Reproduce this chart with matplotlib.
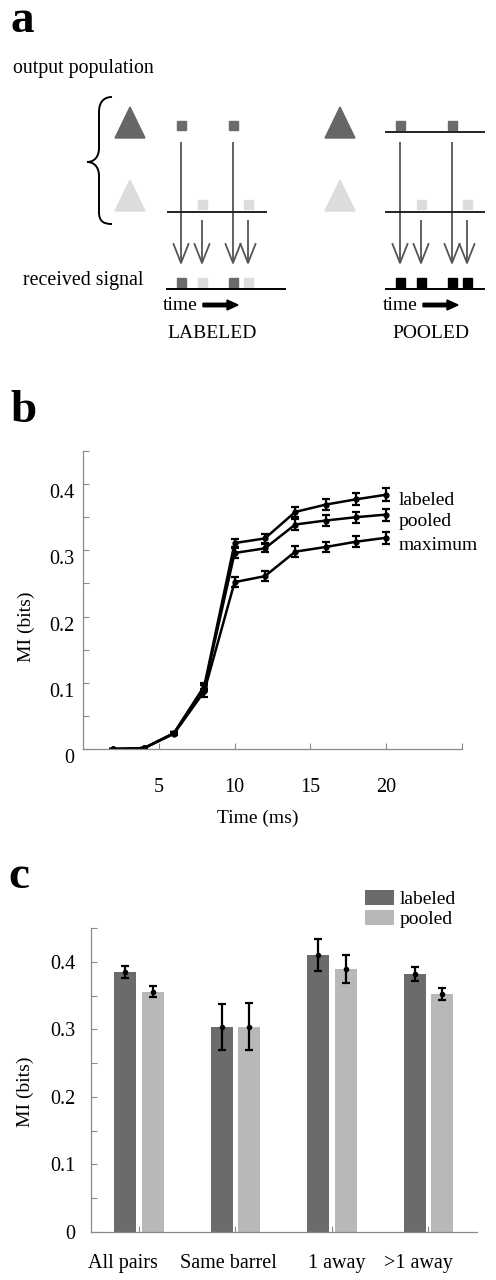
"""Three-panel figure: labeled vs pooled coding schematic, MI over time, MI by pair class."""

import numpy as np
from matplotlib import pyplot as plt
from matplotlib.patches import Polygon, Rectangle, PathPatch
from matplotlib.path import Path

plt.rcParams["font.family"] = ["Liberation Serif", "DejaVu Serif"]

# panel b: mutual information over time
time_ms = [2, 4, 6, 8, 10, 12, 14, 16, 18, 20]
mi_labeled = [0.0, 0.001, 0.024, 0.095, 0.311, 0.318, 0.358, 0.369, 0.377, 0.384]
mi_pooled = [0.0, 0.001, 0.024, 0.092, 0.296, 0.303, 0.339, 0.345, 0.350, 0.354]
mi_maximum = [0.0, 0.001, 0.023, 0.087, 0.252, 0.261, 0.298, 0.305, 0.313, 0.319]
err_labeled = [0, 0, 0.002, 0.004, 0.006, 0.007, 0.008, 0.008, 0.009, 0.0095]
err_pooled = [0, 0, 0.002, 0.004, 0.007, 0.006, 0.009, 0.008, 0.008, 0.009]
err_maximum = [0, 0, 0.002, 0.009, 0.008, 0.0075, 0.008, 0.0075, 0.008, 0.009]

# panel c: MI per pair category
categories = ["All pairs", "Same barrel", "1 away", ">1 away"]
bar_labeled = [0.385, 0.304, 0.410, 0.382]
bar_pooled = [0.356, 0.304, 0.389, 0.352]
bar_err_labeled = [0.009, 0.034, 0.023, 0.010]
bar_err_pooled = [0.008, 0.035, 0.021, 0.009]

# panel a: spike times (schematic units) of the two output neurons
dark_spikes = [14, 66]
light_spikes = [35, 81]

DARK = "#6b6b6b"
LIGHT = "#b8b8b8"
TRI_DARK = "#666666"
TRI_LIGHT = "#dcdcdc"
SPINE = "#8a8a8a"
FS = 14
TICK_FS = 14.5

W, H = 496, 1280


def draw_arrow(ax, x, y0, y1, color="#555555"):
    # shaft plus an open V head
    ax.plot([x, x], [y0, y1], color=color, lw=1.3, solid_capstyle="butt")
    ax.plot([x - 7.5, x, x + 7.5], [y1 - 19, y1, y1 - 19], color=color, lw=1.3)


def draw_scheme(ax, x0, name, pooled):
    tri_x = 115 if not pooled else 325
    ax.add_patch(Polygon([[tri_x, 138], [tri_x + 15, 107], [tri_x + 30, 138]], color=TRI_DARK))
    ax.add_patch(Polygon([[tri_x, 211], [tri_x + 15, 180], [tri_x + 30, 211]], color=TRI_LIGHT))

    sq = 9
    for t in dark_spikes:
        ax.add_patch(Rectangle((x0 + t - sq / 2, 121), sq, sq, color=DARK))
        draw_arrow(ax, x0 + t, 142, 263)
        ax.add_patch(Rectangle((x0 + t - sq / 2, 278), sq, sq, color="black" if pooled else DARK))
    for t in light_spikes:
        ax.add_patch(Rectangle((x0 + t - sq / 2, 200), sq, sq, color=TRI_LIGHT))
        draw_arrow(ax, x0 + t, 220, 263)
        ax.add_patch(Rectangle((x0 + t - sq / 2, 278), sq, sq, color="black" if pooled else TRI_LIGHT))

    if pooled:
        ax.plot([x0, x0 + 98], [132, 132], color="#222222", lw=1.4)
        ax.plot([x0, x0 + 98], [212, 212], color="#222222", lw=1.4)
        ax.plot([x0, x0 + 98], [289, 289], color="black", lw=1.4)
        text_x = x0 - 3
    else:
        ax.plot([x0 + 1, x0 + 99], [212, 212], color="#222222", lw=1.4)
        ax.plot([x0, x0 + 118], [289, 289], color="black", lw=1.4)
        text_x = x0 - 4

    ax.text(text_x, 305, "time", fontsize=FS, ha="left", va="center")
    ax.arrow(text_x + 40, 305, 35, 0, width=3.5, head_width=10, head_length=11,
             length_includes_head=True, color="black")
    ax.text(x0 + 45, 334, name, fontsize=FS, ha="center", va="center")


def plot_schematic(fig):
    ax = fig.add_axes([0, 1 - 345 / H, 1, 345 / H])
    ax.set_xlim(0, W)
    ax.set_ylim(345, 0)
    ax.axis("off")

    ax.text(13, 69, "output population", fontsize=14.3, ha="left", va="center")
    ax.text(23, 280, "received signal", fontsize=14.3, ha="left", va="center")

    # curly brace grouping the two neurons
    verts = [(112, 97), (103, 97), (99, 103), (99, 112), (99, 148),
             (99, 156), (95, 162), (87, 162),
             (95, 162), (99, 168), (99, 176), (99, 212),
             (99, 221), (103, 224), (112, 224)]
    codes = [Path.MOVETO, Path.CURVE4, Path.CURVE4, Path.CURVE4, Path.LINETO,
             Path.CURVE4, Path.CURVE4, Path.CURVE4,
             Path.CURVE4, Path.CURVE4, Path.CURVE4, Path.LINETO,
             Path.CURVE4, Path.CURVE4, Path.CURVE4]
    ax.add_patch(PathPatch(Path(verts, codes), fill=False, lw=1.4, color="black"))

    draw_scheme(ax, 167, "LABELED", pooled=False)
    draw_scheme(ax, 386, "POOLED", pooled=True)


def style_axes(ax):
    for side in ["top", "right"]:
        ax.spines[side].set_visible(False)
    for side in ["left", "bottom"]:
        ax.spines[side].set_color(SPINE)
        ax.spines[side].set_linewidth(0.9)
    ax.tick_params(which="both", direction="in", color=SPINE, length=4, width=0.8,
                   labelsize=TICK_FS)


def plot_time_course(fig):
    ax = fig.add_axes([83 / W, 1 - 749 / H, 379 / W, 298 / H])
    style_axes(ax)
    series = [(mi_labeled, err_labeled), (mi_pooled, err_pooled), (mi_maximum, err_maximum)]
    for values, errs in series:
        ax.errorbar(time_ms, values, yerr=errs, color="black", lw=1.8, capsize=3,
                    elinewidth=1.6, capthick=1.6, marker="o", ms=3.5)
    ax.set_xlim(0, 25)
    ax.set_ylim(0, 0.45)
    ax.set_xticks([5, 10, 15, 20, 25])
    ax.set_xticklabels(["5", "10", "15", "20", ""])
    ax.set_yticks([0, 0.1, 0.2, 0.3, 0.4])
    ax.set_yticklabels(["0", "0.1", "0.2", "0.3", "0.4"], va="top")
    ax.set_yticks([0.05, 0.15, 0.25, 0.35, 0.45], minor=True)
    ax.tick_params(axis="x", pad=21)
    ax.tick_params(axis="y", pad=6)

    for label, y in zip(["labeled", "pooled", "maximum"], [0.3756, 0.343, 0.308]):
        ax.text(20.85, y, label, fontsize=FS, ha="left", va="center")
    ax.text(-0.149, 0.409, "MI (bits)", fontsize=FS, rotation=90, ha="center",
            va="center", transform=ax.transAxes)
    ax.text(0.462, -0.232, "Time (ms)", fontsize=FS, ha="center", va="center",
            transform=ax.transAxes)


def plot_categories(fig):
    ax = fig.add_axes([90.7 / W, 1 - 1232 / H, 386 / W, 304 / H])
    style_axes(ax)
    centers = np.arange(len(categories)) + 0.5
    width = 0.23
    offset = 0.143
    ax.bar(centers - offset, bar_labeled, width, color=DARK, label="labeled")
    ax.bar(centers + offset, bar_pooled, width, color=LIGHT, label="pooled")
    ax.errorbar(centers - offset, bar_labeled, yerr=bar_err_labeled, fmt="o", ms=3,
                color="black", capsize=3, elinewidth=1.6, capthick=1.6)
    ax.errorbar(centers + offset, bar_pooled, yerr=bar_err_pooled, fmt="o", ms=3,
                color="black", capsize=3, elinewidth=1.6, capthick=1.6)
    ax.set_xlim(0, len(categories))
    ax.set_ylim(0, 0.45)

    # tick marks sit at the group centres, the labels are set off a little
    ax.set_xticks(centers, minor=True)
    label_shift = [-0.165, -0.077, 0.052, -0.108]
    ax.set_xticks(centers + np.array(label_shift))
    ax.set_xticklabels(categories)
    ax.tick_params(axis="x", which="major", length=0, pad=16)

    ax.set_yticks([0, 0.1, 0.2, 0.3, 0.4])
    ax.set_yticklabels(["0", "0.1", "0.2", "0.3", "0.4"])
    ax.set_yticks([0.05, 0.15, 0.25, 0.35, 0.45], minor=True)
    ax.tick_params(axis="y", pad=11)
    ax.text(-0.169, 0.46, "MI (bits)", fontsize=FS, rotation=90, ha="center",
            va="center", transform=ax.transAxes)
    ax.legend(loc="upper left", bbox_to_anchor=((365 - 90.7) / 386, (1232 - 890) / 304),
              frameon=False, fontsize=FS, handlelength=1.5, handleheight=0.8,
              handletextpad=0.3, labelspacing=0.1, borderpad=0, borderaxespad=0)


def main():
    fig = plt.figure(figsize=(W / 100, H / 100), dpi=100)
    plot_schematic(fig)
    plot_time_course(fig)
    plot_categories(fig)

    # panel letters
    for letter, x, y in [("a", 11, 32), ("b", 10, 422), ("c", 8, 888)]:
        fig.text(x / W, 1 - y / H, letter, fontsize=34, fontweight="bold",
                 ha="left", va="baseline")

    fig.savefig("out.png", dpi=100)


if __name__ == "__main__":
    main()
